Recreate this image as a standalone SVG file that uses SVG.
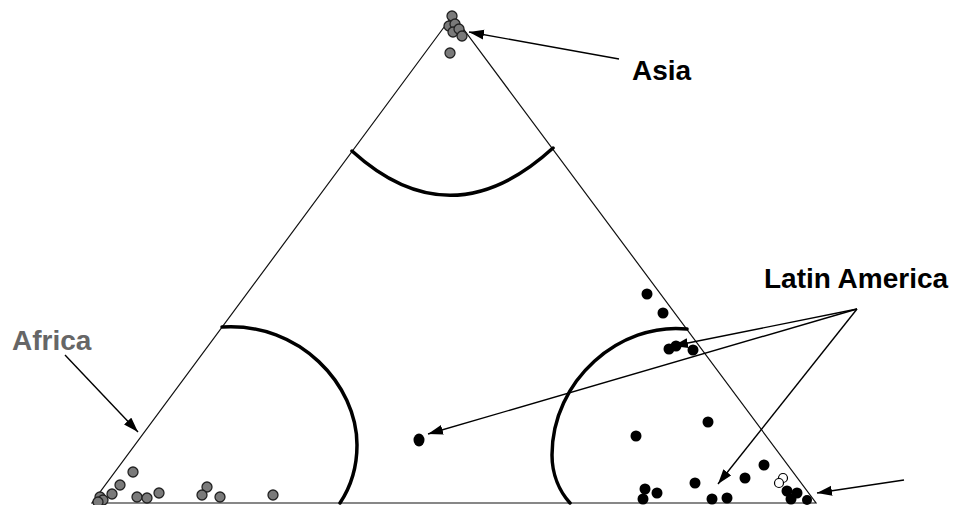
<svg xmlns="http://www.w3.org/2000/svg" width="965" height="505" viewBox="0 0 965 505">
  <style>
    .frame { fill: none; stroke: #111; stroke-width: 1.2; }
    .arc { fill: none; stroke: #000; stroke-width: 3.5; stroke-linecap: round; }
    .g { fill: #7a7a7a; stroke: #222; stroke-width: 1.3; }
    .b { fill: #000; }
    .o { fill: #fff; stroke: #000; stroke-width: 1.2; }
    .conn { fill: none; stroke: #000; stroke-width: 1.4; marker-end: url(#ah); }
    .lbl { font-family: "Liberation Sans", Arial, sans-serif; font-weight: bold; font-size: 28px; fill: #000; }
  </style>
  <defs>
    <marker id="ah" markerUnits="userSpaceOnUse" markerWidth="16" markerHeight="11" refX="15" refY="5" orient="auto">
      <path d="M0,0 L15,5 L0,10 Z" fill="#000"/>
    </marker>
  </defs>
  <rect width="965" height="505" fill="#fff"/>

  <g id="triangle">
    <path class="frame" d="M453,15 L92,503 L816,503 Z"/>
  </g>

  <g id="regions">
    <path class="arc" d="M352,151 Q451,241 553,148"/>
    <path class="arc" d="M222,327 C300,322 357,385 357,445 C357,470 350,488 340,503"/>
    <path class="arc" d="M687,329 C620,322 552,380 552,455 C552,475 560,492 570,503"/>
  </g>

  <g id="asia-dots">
    <circle class="g" cx="452" cy="16" r="5"/>
    <circle class="g" cx="449" cy="26" r="5"/>
    <circle class="g" cx="455" cy="24" r="5"/>
    <circle class="g" cx="453" cy="32" r="5"/>
    <circle class="g" cx="459" cy="29" r="5"/>
    <circle class="g" cx="462" cy="36" r="5"/>
    <circle class="g" cx="450" cy="53" r="5"/>
  </g>

  <g id="africa-dots">
    <circle class="g" cx="133" cy="472" r="5"/>
    <circle class="g" cx="120" cy="485" r="5"/>
    <circle class="g" cx="112" cy="494" r="5"/>
    <circle class="g" cx="100" cy="497" r="5"/>
    <circle class="g" cx="103" cy="500" r="5"/>
    <circle class="g" cx="98" cy="502" r="5"/>
    <circle class="g" cx="137" cy="497" r="5"/>
    <circle class="g" cx="147" cy="498" r="5"/>
    <circle class="g" cx="159" cy="493" r="5"/>
    <circle class="g" cx="207" cy="487" r="5"/>
    <circle class="g" cx="202" cy="495" r="5"/>
    <circle class="g" cx="220" cy="497" r="5"/>
    <circle class="g" cx="273" cy="495" r="5"/>
  </g>

  <g id="latin-america-dots">
    <circle class="b" cx="647" cy="294" r="5.5"/>
    <circle class="b" cx="663" cy="313" r="5.5"/>
    <circle class="b" cx="669" cy="349" r="5.5"/>
    <circle class="b" cx="676" cy="346" r="5.5"/>
    <circle class="b" cx="693" cy="350" r="5.5"/>
    <ellipse class="b" cx="419" cy="440" rx="5.5" ry="6.5"/>
    <circle class="b" cx="708" cy="422" r="5.5"/>
    <circle class="b" cx="636" cy="436" r="5.5"/>
    <circle class="b" cx="645" cy="489" r="5.5"/>
    <circle class="b" cx="657" cy="493" r="5.5"/>
    <circle class="b" cx="643" cy="499" r="5.5"/>
    <circle class="b" cx="695" cy="483" r="5.5"/>
    <circle class="b" cx="712" cy="499" r="5.5"/>
    <circle class="b" cx="727" cy="498" r="5.5"/>
    <circle class="b" cx="745" cy="478" r="5.5"/>
    <circle class="b" cx="764" cy="465" r="5.5"/>
    <circle class="b" cx="787" cy="491" r="5.5"/>
    <circle class="b" cx="797" cy="493" r="5.5"/>
    <circle class="b" cx="791" cy="499" r="5.5"/>
    <circle class="b" cx="807" cy="500" r="5"/>
    <circle class="o" cx="783" cy="478" r="4.5"/>
    <circle class="o" cx="779" cy="483" r="4.5"/>
  </g>

  <g id="connectors">
    <path class="conn" d="M619,59 L469,32"/>
    <path class="conn" d="M65,355 L138,432"/>
    <path class="conn" d="M857,309 L673,346"/>
    <path class="conn" d="M857,309 L428,434"/>
    <path class="conn" d="M857,309 L718,484"/>
    <path class="conn" d="M904,480 L817,493"/>
  </g>

  <g id="label-asia"><text class="lbl" x="632" y="80">Asia</text></g>
  <g id="label-latin-america"><text class="lbl" x="764" y="288">Latin America</text></g>
  <g id="label-africa"><text class="lbl" x="12" y="350" style="fill:#666">Africa</text></g>
</svg>
